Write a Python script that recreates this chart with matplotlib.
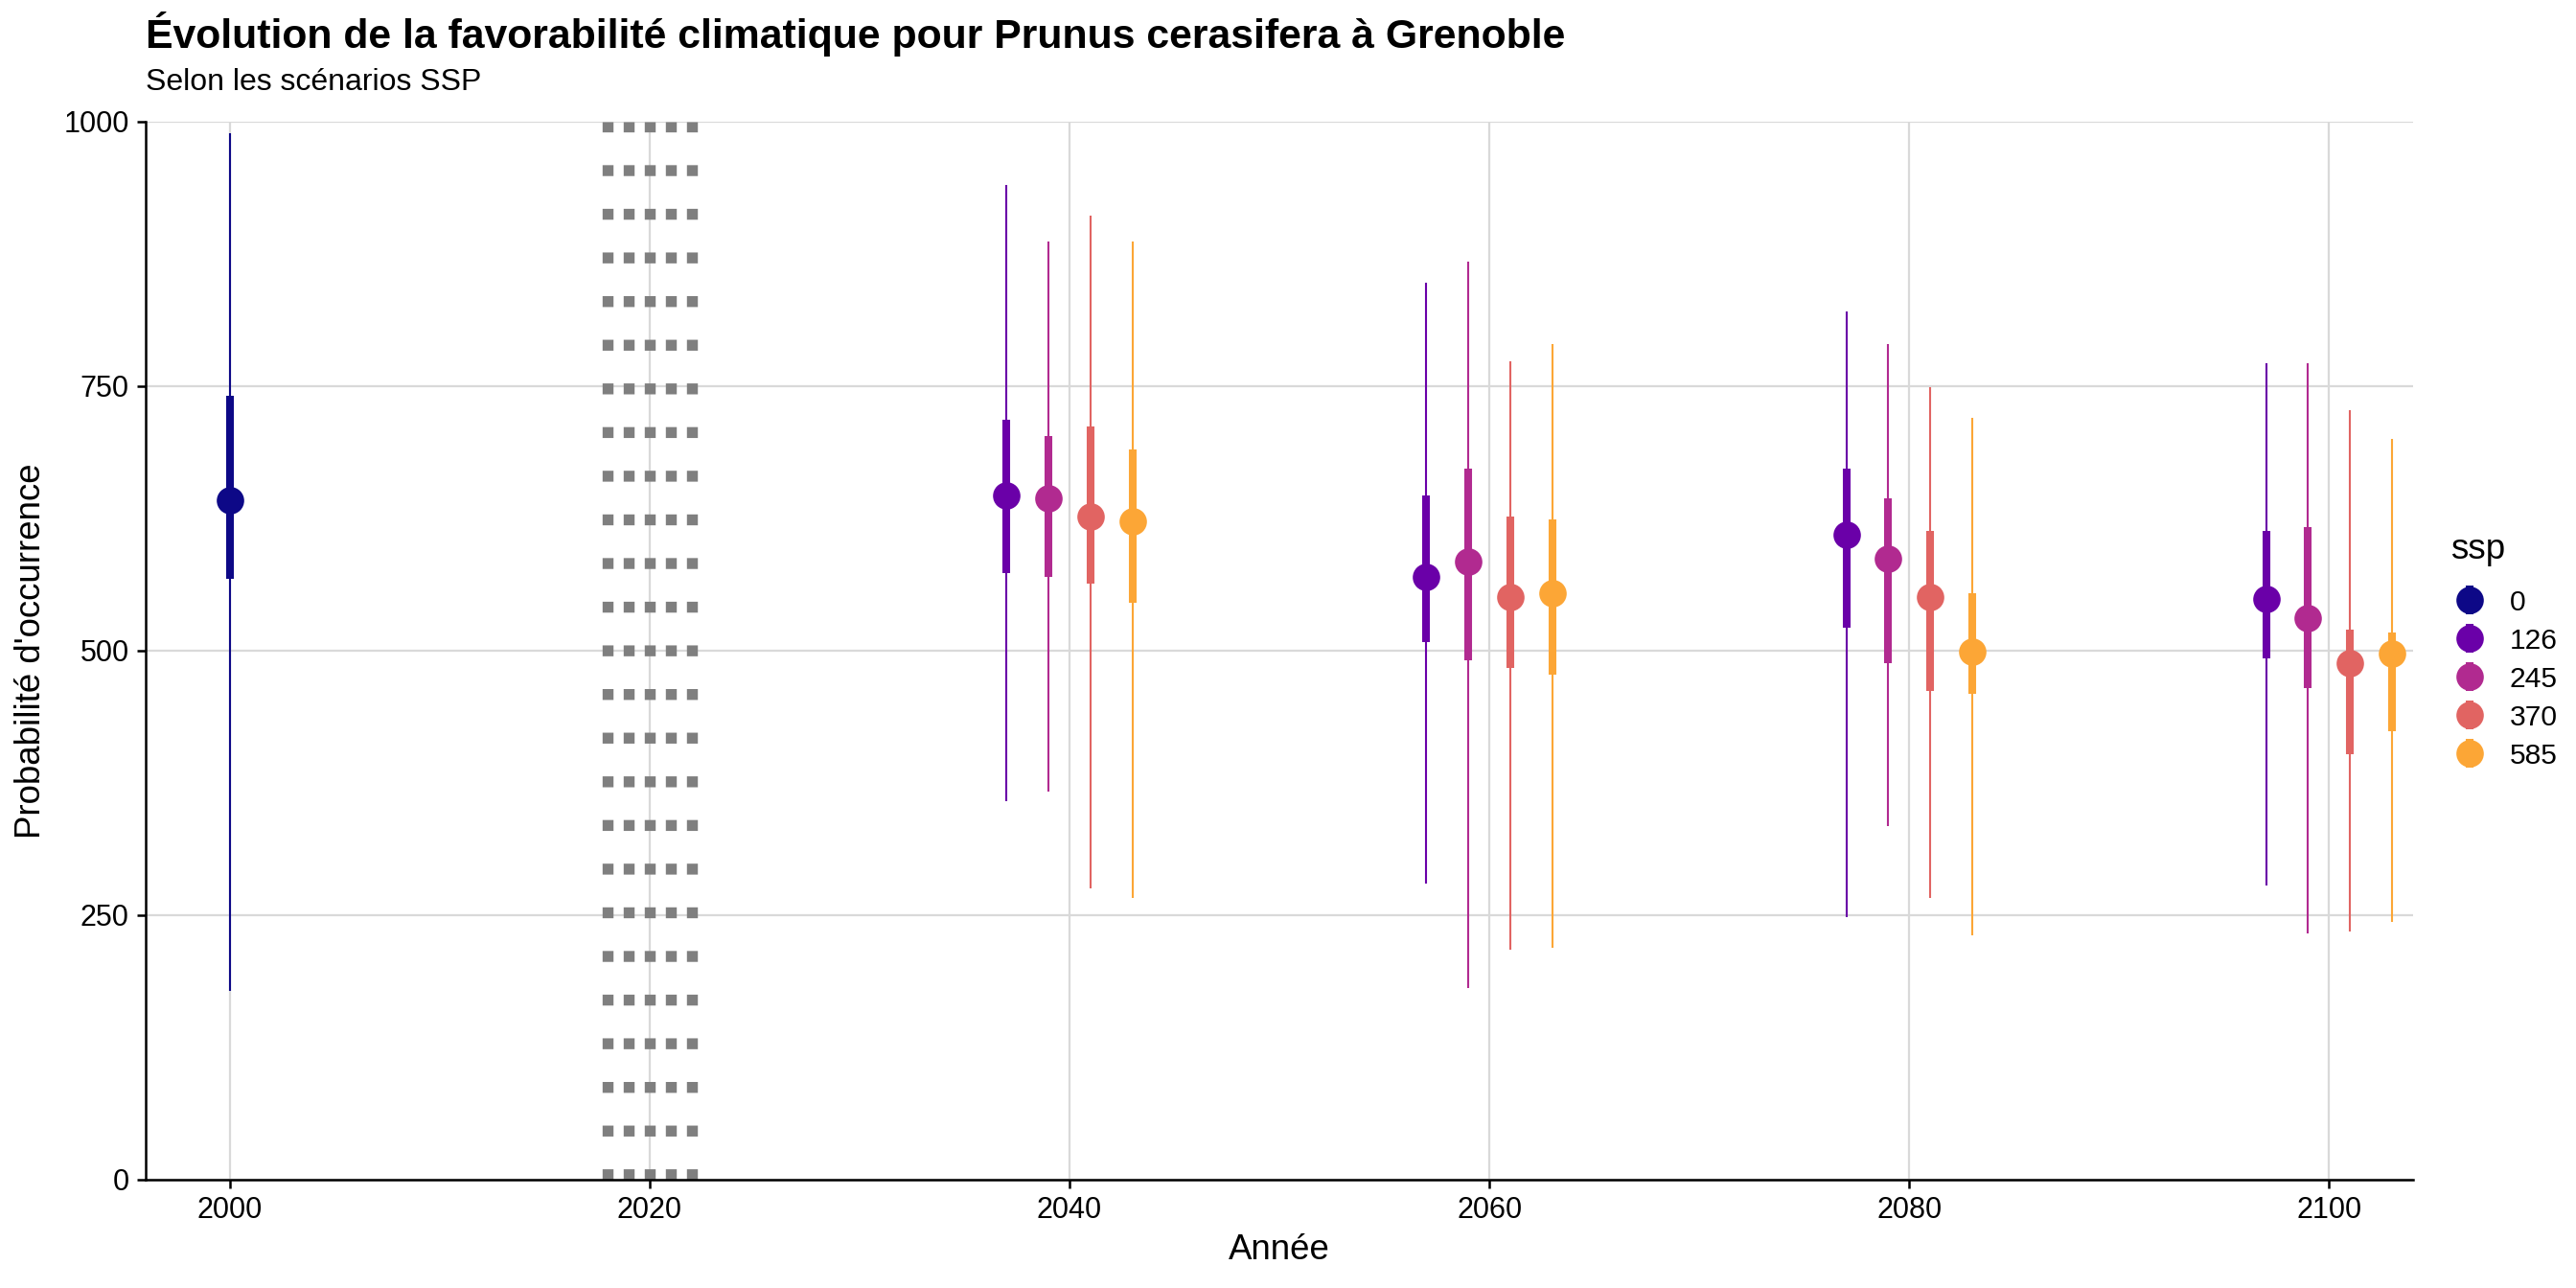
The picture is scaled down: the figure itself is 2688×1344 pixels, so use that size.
import matplotlib
matplotlib.use("Agg")
import matplotlib.pyplot as plt

plt.rcParams['font.family'] = ['Liberation Sans', 'DejaVu Sans']

# ---------------- data ----------------
ssp_levels = ["0", "126", "245", "370", "585"]
ssp_colors = ["#0D0887", "#6A00A8", "#B12A90", "#E16462", "#FCA636"]

years_hist = [2000]
years_future = [2040, 2060, 2080, 2100]

# ssp 0 (historical, 2000)
ssp0_median = [642]
ssp0_q66_low = [568]
ssp0_q66_high = [741]
ssp0_q95_low = [178]
ssp0_q95_high = [989]

# future scenarios: one value per year in years_future
median = {
    "126": [647, 570, 610, 549],
    "245": [644, 584, 587, 531],
    "370": [627, 551, 551, 488],
    "585": [622, 554, 499, 497],
}
q66_low = {
    "126": [573, 508, 522, 493],
    "245": [570, 491, 488, 465],
    "370": [563, 484, 462, 402],
    "585": [545, 477, 459, 424],
}
q66_high = {
    "126": [718, 647, 672, 613],
    "245": [703, 672, 644, 617],
    "370": [712, 627, 613, 520],
    "585": [690, 624, 554, 517],
}
q95_low = {
    "126": [358, 280, 248, 278],
    "245": [367, 181, 334, 233],
    "370": [275, 217, 266, 235],
    "585": [266, 219, 231, 244],
}
q95_high = {
    "126": [940, 848, 821, 772],
    "245": [887, 868, 790, 772],
    "370": [911, 774, 749, 727],
    "585": [887, 790, 720, 700],
}

transition_years = [2018, 2019, 2020, 2021, 2022]

title = "Évolution de la favorabilité climatique pour Prunus cerasifera à Grenoble"
subtitle = "Selon les scénarios SSP"
xlabel = "Année"
ylabel = "Probabilité d'occurrence"
legend_title = "ssp"

# ---------------- styling ----------------
W, H, DPI = 2688, 1344, 200
fig = plt.figure(figsize=(W / DPI, H / DPI), dpi=DPI)
ax = fig.add_axes([152 / W, 1 - 1231 / H, (2518 - 152) / W, (1231 - 127) / H])

thin_lw = 0.75
thick_lw = 2.9
msize = 9.3
dodge_step = 2.0

ax.set_xlim(1996, 2104)
ax.set_ylim(0, 1000)
ax.set_xticks([2000, 2020, 2040, 2060, 2080, 2100])
ax.set_yticks([0, 250, 500, 750, 1000])
ax.grid(True, color="#D9D9D9", linewidth=0.8, zorder=0)
ax.set_axisbelow(True)

for s in ["top", "right"]:
    ax.spines[s].set_visible(False)
for s in ["left", "bottom"]:
    ax.spines[s].set_color("black")
    ax.spines[s].set_linewidth(0.9)
    ax.spines[s].set_zorder(5)

ax.tick_params(axis="both", length=3.2, width=0.9, color="black",
               labelsize=11, labelcolor="black", pad=3)

# dotted transition band
for yr in transition_years:
    ax.axvline(yr, ymin=0, ymax=1, color="#7F7F7F", linewidth=4.1,
               linestyle=(0, (1, 3)), dash_capstyle="butt", zorder=1)

handles = []
# ssp 0
c0 = ssp_colors[0]
ax.vlines(years_hist, ssp0_q95_low, ssp0_q95_high, color=c0, linewidth=thin_lw, zorder=3)
eb = ax.errorbar(years_hist, ssp0_median,
                 yerr=[[m - l for m, l in zip(ssp0_median, ssp0_q66_low)],
                       [h - m for m, h in zip(ssp0_median, ssp0_q66_high)]],
                 fmt="o", color=c0, ms=msize, elinewidth=thick_lw, capsize=0,
                 label=ssp_levels[0], zorder=4)
handles.append(eb)

n = len(ssp_levels) - 1
for i, key in enumerate(ssp_levels[1:]):
    col = ssp_colors[i + 1]
    off = (i - (n - 1) / 2) * dodge_step
    xs = [y + off for y in years_future]
    ax.vlines(xs, q95_low[key], q95_high[key], color=col, linewidth=thin_lw, zorder=3)
    eb = ax.errorbar(xs, median[key],
                     yerr=[[m - l for m, l in zip(median[key], q66_low[key])],
                           [h - m for m, h in zip(median[key], q66_high[key])]],
                     fmt="o", color=col, ms=msize, elinewidth=thick_lw, capsize=0,
                     label=key, zorder=4)
    handles.append(eb)

ax.set_xlabel(xlabel, fontsize=13.2, labelpad=3)
ax.set_ylabel(ylabel, fontsize=13.2, labelpad=6)

fig.text(152 / W, 1 - 50 / H, title, fontsize=15.4, fontweight="bold",
         ha="left", va="baseline")
fig.text(152 / W, 1 - 94 / H, subtitle, fontsize=11.5, ha="left", va="baseline")

leg = ax.legend(handles=handles, labels=ssp_levels, title=legend_title,
                loc="upper left", bbox_to_anchor=(2557 / W, 1 - 556 / H),
                bbox_transform=fig.transFigure, frameon=False,
                fontsize=10.8, title_fontsize=13.2, borderpad=0, borderaxespad=0,
                handlelength=1.3, handletextpad=0.75, labelspacing=0.4,
                alignment="left")
leg._legend_box.sep = 8.6

fig.savefig("out.png", dpi=DPI, facecolor="white")
